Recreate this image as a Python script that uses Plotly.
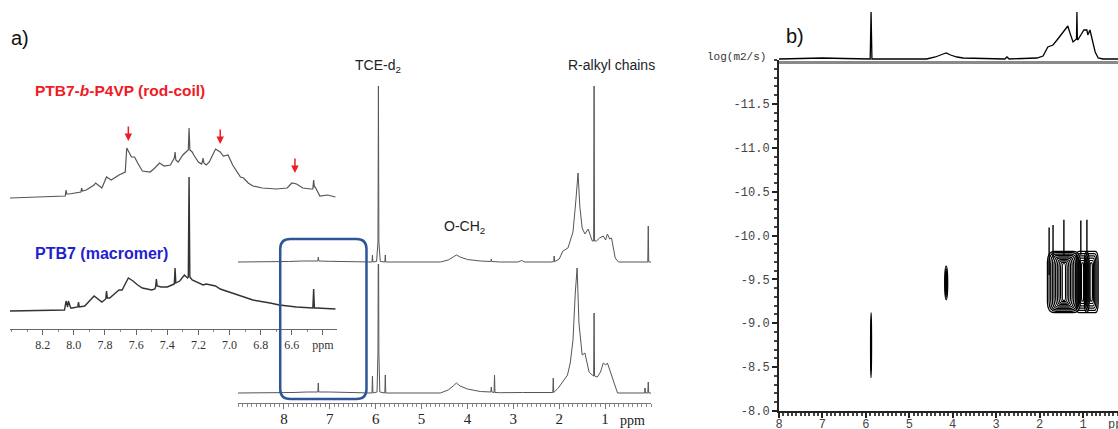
import plotly.graph_objects as go

W, H = 1118, 429

# ---------------- DATA ----------------
# a) full 1H spectrum, PTB7-b-P4VP (rod-coil), upper trace
rc_ppm = [9.0, 8.2, 7.9, 7.6, 7.3, 7.26, 7.25, 7.24, 7.0, 6.6, 6.3, 6.08, 6.07, 6.06, 5.98, 5.95, 5.94, 5.93, 5.90,
          5.80, 5.79, 5.78, 4.59, 4.42, 4.31, 4.24, 4.16, 4.00, 3.72, 3.49, 3.48, 3.47, 3.28, 2.9, 2.82, 2.75, 2.2,
          2.12, 2.11, 2.10, 2.0, 1.92, 1.81, 1.70, 1.64, 1.59, 1.55, 1.50, 1.44, 1.37, 1.28, 1.25, 1.24, 1.23, 1.19,
          1.12, 1.04, 0.99, 0.95, 0.90, 0.86, 0.81, 0.78, 0.71, 0.08, 0.07, 0.06, 0.05, 0.0]
rc_int = [0, 0, 0.5, 1, 1, 1, 5, 1, 0.7, 0.3, 0, 0, 7, 0, 0.5, 20, 176, 20, 0.5,
          0, 7, 0, 0, 2, 5, 7, 5, 2.5, 1, 0.5, 3, 0.5, 0, 0, 1.5, 0, 0,
          0.3, 6, 0.3, 3, 11, 14, 30, 60, 89, 55, 34, 28, 33, 21, 21, 176, 21, 21,
          24, 26, 22, 28, 23, 24, 13, 4, 0, 0, 0, 36, 0, 0]

# a) full 1H spectrum, PTB7 (macromer), lower trace
mm_ppm = [9.0, 8.1, 7.8, 7.5, 7.26, 7.25, 7.24, 7.0, 6.6, 6.3, 6.08, 6.07, 6.06, 5.97, 5.95, 5.94, 5.93, 5.91,
          5.80, 5.79, 5.78, 4.59, 4.42, 4.31, 4.24, 4.16, 4.00, 3.72, 3.49, 3.48, 3.47, 3.42, 3.41, 3.40, 3.28,
          2.8, 2.2, 2.14, 2.13, 2.12, 2.02, 1.92, 1.82, 1.76, 1.70, 1.65, 1.61, 1.57, 1.50, 1.44, 1.35, 1.28,
          1.25, 1.24, 1.23, 1.17, 1.10, 1.04, 0.99, 0.95, 0.88, 0.81, 0.73, 0.14, 0.13, 0.12, 0.07, 0.06, 0.05, 0.0]
mm_int = [0, 0, 0.5, 1, 1, 10, 1, 1, 0.5, 0, 0, 17, 0, 1, 40, 200, 40, 1,
          0, 18, 0, 0, 3, 7, 10, 7, 4, 1.5, 1, 6, 1, 0.5, 18, 0.5, 0.3,
          0.5, 0.5, 0.5, 15, 0.5, 5, 11, 18, 30, 53, 100, 125, 70, 38, 40, 21, 18,
          17, 80, 17, 16, 21, 30, 28, 30, 21, 10, 0, 0, 5, 0, 0, 11, 0, 0]

# a) inset, aromatic region, rod-coil
ins_rc_ppm = [8.41, 8.07, 8.055, 8.05, 8.045, 8.03, 7.96, 7.955, 7.95, 7.945, 7.92, 7.87, 7.86, 7.82, 7.79, 7.76,
              7.72, 7.71, 7.67, 7.66, 7.63, 7.61, 7.59, 7.56, 7.51, 7.48, 7.45, 7.42, 7.38, 7.36, 7.355, 7.35,
              7.345, 7.33, 7.30, 7.28, 7.27, 7.265, 7.26, 7.255, 7.24, 7.23, 7.20, 7.18, 7.175, 7.17, 7.165, 7.15,
              7.13, 7.09, 7.06, 7.04, 7.01, 6.98, 6.93, 6.91, 6.88, 6.85, 6.79, 6.70, 6.63, 6.60, 6.57, 6.56,
              6.53, 6.48, 6.465, 6.46, 6.455, 6.45, 6.42, 6.37, 6.32]
ins_rc_int = [2, 4, 4, 10, 6, 6, 8, 8, 12, 9, 10, 15, 17, 12, 23, 20,
              24, 25, 28, 52, 43, 43, 37, 29, 28, 32, 37, 34, 35, 40, 42, 48,
              40, 38, 45, 48, 50, 50, 72, 50, 48, 45, 38, 36, 38, 42, 37, 35,
              38, 51, 48, 44, 45, 35, 23, 22, 17, 14, 12, 11, 12, 17, 16, 15,
              12, 11, 11, 20, 13, 13, 4, 5, 3]

# a) inset, aromatic region, macromer
ins_mm_ppm = [8.41, 8.07, 8.06, 8.05, 8.04, 8.035, 8.02, 8.01, 7.975, 7.97, 7.965, 7.93, 7.87, 7.82, 7.795, 7.79,
              7.785, 7.77, 7.72, 7.71, 7.69, 7.66, 7.65, 7.62, 7.59, 7.56, 7.50, 7.48, 7.475, 7.47, 7.465, 7.44,
              7.40, 7.37, 7.355, 7.35, 7.345, 7.32, 7.29, 7.27, 7.265, 7.26, 7.255, 7.24, 7.21, 7.17, 7.15, 7.09,
              7.06, 6.95, 6.85, 6.74, 6.68, 6.57, 6.48, 6.465, 6.46, 6.455, 6.44, 6.32]
ins_mm_int = [2, 3, 3, 12, 6, 12, 5, 5, 6, 11, 6, 7, 17, 11, 14, 22,
              15, 15, 21, 23, 23, 33, 35, 32, 28, 25, 23, 24, 26, 34, 27, 26,
              26, 28, 29, 45, 30, 32, 38, 35, 36, 136, 36, 33, 31, 28, 29, 27,
              24, 18, 13, 10, 8, 6, 5, 5, 24, 5, 5, 4]

# b) 1D projection above the DOSY map
proj_ppm = [8.0, 7.5, 7.0, 6.5, 6.0, 5.90, 5.88, 5.86, 4.6, 4.4, 4.22, 4.15, 4.05, 3.9, 3.76, 3.2, 2.8, 2.75, 2.7,
            2.06, 1.92, 1.81, 1.72, 1.69, 1.58, 1.46, 1.35, 1.30, 1.23, 1.15, 1.14, 1.13, 1.12, 1.05, 0.98, 0.91,
            0.89, 0.84, 0.79, 0.72, 0.65, 0.54, 0.19]
proj_int = [0, 0.5, 1, 0.5, 0, 0, 47, 0, 0, 2, 5, 6, 4, 2, 1, 0, 0, 2, 0,
            1, 3, 12, 14, 14, 20, 27, 33, 26, 17, 20, 47, 20, 19, 24, 29, 29,
            24, 29, 19, 7, 1, 0, 0]

# b) DOSY cross peaks: centre (ppm, logD), half-widths, number of contour levels
dosy_ppm = [5.88, 4.15, 1.44, 1.01, 0.81]
dosy_logd = [-8.75, -9.46, -9.47, -9.47, -9.47]
dosy_wppm = [0.012, 0.035, 0.38, 0.15, 0.16]
dosy_hlog = [0.37, 0.19, 0.35, 0.35, 0.35]
dosy_levels = [2, 3, 10, 6, 6]
# t1-noise ridges above the alkyl cross peaks
ridge_ppm = [1.78, 1.69, 1.44, 1.05, 0.91]
ridge_top = [-10.09, -10.12, -10.18, -10.17, -10.18]
ridge_bottom = [-9.55, -9.75, -9.78, -9.78, -9.78]

main_ticks = [8, 7, 6, 5, 4, 3, 2, 1]
inset_ticks = [8.2, 8.0, 7.8, 7.6, 7.4, 7.2, 7.0, 6.8, 6.6, 6.4]
inset_ticktext = ["8.2", "8.0", "7.8", "7.6", "7.4", "7.2", "7.0", "6.8", "6.6", "ppm"]
dosy_xticks = [8, 7, 6, 5, 4, 3, 2, 1]
dosy_yticks = [-8.0, -8.5, -9.0, -9.5, -10.0, -10.5, -11.0, -11.5]
dosy_yticktext = ["-8.0", "-8.5", "-9.0", "-9.5", "-10.0", "-10.5", "-11.0", "-11.5"]

# red arrows (ppm, intensity of tip on the rod-coil inset)
arrow_ppm = [7.65, 7.06, 6.58]
arrow_int = [59, 56, 27]

# highlighted region in the full spectrum (ppm range)
box_ppm = (8.08, 6.20)


# ---------------- FIGURE ----------------
def dx(p):
    return p / W


def dy(p):
    return 1 - p / H


fig = go.Figure()
grey = "#555555"
dark = "#333333"

fig.add_trace(go.Scatter(x=mm_ppm, y=mm_int, xaxis="x", yaxis="y", mode="lines",
                         line=dict(color=grey, width=1)))
fig.add_trace(go.Scatter(x=rc_ppm, y=rc_int, xaxis="x", yaxis="y2", mode="lines",
                         line=dict(color=grey, width=1)))
fig.add_trace(go.Scatter(x=ins_mm_ppm, y=ins_mm_int, xaxis="x2", yaxis="y3", mode="lines",
                         line=dict(color=dark, width=1.4)))
fig.add_trace(go.Scatter(x=ins_rc_ppm, y=ins_rc_int, xaxis="x2", yaxis="y4", mode="lines",
                         line=dict(color=grey, width=1.2)))
fig.add_trace(go.Scatter(x=proj_ppm, y=proj_int, xaxis="x4", yaxis="y6", mode="lines",
                         line=dict(color="black", width=1.3)))
for p, t, b in zip(ridge_ppm, ridge_top, ridge_bottom):
    fig.add_trace(go.Scatter(x=[p, p], y=[b, t], xaxis="x3", yaxis="y5", mode="lines",
                             line=dict(color="black", width=1.4)))

mono = "Liberation Mono"
serif = "Liberation Serif"
sans = "Liberation Sans"

fig.update_layout(
    width=W, height=H, margin=dict(l=0, r=0, t=0, b=0, autoexpand=False),
    paper_bgcolor="white", plot_bgcolor="rgba(0,0,0,0)", showlegend=False,
    xaxis=dict(domain=[dx(238), dx(651)], range=[9, 0], anchor="y",
               showline=True, linecolor="#777", linewidth=1, showgrid=False, zeroline=False,
               tickvals=main_ticks, ticks="outside", ticklen=5, tickcolor="#777", tickwidth=1,
               ticklabelstandoff=-3,
               minor=dict(dtick=0.1, tick0=0, ticks="outside", ticklen=3, tickcolor="#888", showgrid=False),
               tickfont=dict(family=serif, size=15, color="#222")),
    yaxis=dict(domain=[dy(403), dy(264)], range=[-10, 129], visible=False),
    yaxis2=dict(domain=[dy(265), dy(80)], range=[-3, 182], anchor="x", visible=False),
    xaxis2=dict(domain=[dx(10), dx(337)], range=[8.41, 6.31], anchor="y3",
                showline=True, linecolor="#666", linewidth=1, showgrid=False, zeroline=False,
                tickvals=inset_ticks, ticktext=inset_ticktext, ticks="outside", ticklen=5,
                tickcolor="#666", minor=dict(dtick=0.1, tick0=0, ticks="outside", ticklen=2,
                                             tickcolor="#888", showgrid=False),
                tickfont=dict(family=serif, size=12, color="#333")),
    yaxis3=dict(domain=[dy(329), dy(170)], range=[-16, 143], anchor="x2", visible=False),
    yaxis4=dict(domain=[dy(205), dy(120)], range=[-5, 80], anchor="x2", visible=False),
    xaxis3=dict(domain=[dx(779), 1], range=[8, 0.194], anchor="y5",
                showline=True, linecolor="#222", linewidth=2, showgrid=False, zeroline=False,
                tickvals=dosy_xticks, ticks="outside", ticklen=5, tickcolor="#222", tickwidth=1.5,
                ticklabelstandoff=-4,
                minor=dict(dtick=0.1, tick0=0, ticks="outside", ticklen=3, tickcolor="#444", showgrid=False),
                tickfont=dict(family=mono, size=12, color="#444")),
    yaxis5=dict(domain=[dy(411), dy(60)], range=[-8, -12], anchor="x3",
                showline=True, linecolor="#222", linewidth=2, showgrid=False, zeroline=False,
                tickvals=dosy_yticks, ticktext=dosy_yticktext, ticks="outside", ticklen=5,
                tickcolor="#222", tickwidth=1.5,
                minor=dict(dtick=0.1, tick0=0, ticks="outside", ticklen=3, tickcolor="#444", showgrid=False),
                tickfont=dict(family=mono, size=12, color="#444")),
    xaxis4=dict(domain=[dx(779), 1], range=[8, 0.194], anchor="y6", matches="x3",
                showline=True, linecolor="#8a8a8a", linewidth=3, showticklabels=False, ticks="",
                showgrid=False, zeroline=False),
    yaxis6=dict(domain=[dy(61), dy(5)], range=[-2, 54], anchor="x4", visible=False),
)

shapes = []


def rounded_ring(xl, xr, yt, yb, rx, ry):
    # xl: left edge (larger ppm), xr: right edge; yt: top (more negative logD), yb: bottom
    return (f"M {xl - rx},{yt} L {xr + rx},{yt} Q {xr},{yt} {xr},{yt + ry} "
            f"L {xr},{yb - ry} Q {xr},{yb} {xr + rx},{yb} "
            f"L {xl - rx},{yb} Q {xl},{yb} {xl},{yb - ry} "
            f"L {xl},{yt + ry} Q {xl},{yt} {xl - rx},{yt} Z")


# DOSY contours as nested rings
for i, (p, d, w, h, n) in enumerate(zip(dosy_ppm, dosy_logd, dosy_wppm, dosy_hlog, dosy_levels)):
    for k in range(n, 0, -1):
        hw = w * k / n
        hh = h * (0.55 + 0.45 * k / n)
        if i < 2:
            shapes.append(dict(type="circle", xref="x3", yref="y5",
                               x0=p - hw, x1=p + hw, y0=d - hh, y1=d + hh,
                               line=dict(color="black", width=1.2),
                               fillcolor="#9a9a9a" if (i == 1 and k == n) else "rgba(0,0,0,0)"))
        else:
            shapes.append(dict(type="path", xref="x3", yref="y5",
                               path=rounded_ring(p + hw, p - hw, d - hh, d + hh, 0.45 * hw, 0.35 * hh),
                               line=dict(color="black", width=1.2)))

# rounded highlight box: ppm range in data coordinates, vertical extent in paper coordinates
L, R = box_ppm
T, B = dy(239), dy(399)
rx, ry = 0.22, 10 / H
path = (f"M {L - rx},{T} L {R + rx},{T} Q {R},{T} {R},{T - ry} L {R},{B + ry} "
        f"Q {R},{B} {R + rx},{B} L {L - rx},{B} Q {L},{B} {L},{B + ry} L {L},{T - ry} "
        f"Q {L},{T} {L - rx},{T} Z")
shapes.append(dict(type="path", xref="x", yref="paper", path=path,
                   line=dict(color="#2E5597", width=2.5)))
fig.update_layout(shapes=shapes)

ann = []


def label(text, x, y, xref="paper", size=14, color="#222", family=sans, xanchor="center"):
    ann.append(dict(text=text, xref=xref, yref="paper", x=x, y=y, xanchor=xanchor, yanchor="middle",
                    showarrow=False, font=dict(family=family, size=size, color=color)))


label("a)", dx(9), dy(38), size=20, color="#111", xanchor="left")
label("b)", dx(784), dy(36), size=20, color="#111", xanchor="left")
label("<b>PTB7-<i>b</i>-P4VP (rod-coil)</b>", dx(33), dy(90), size=15.5, color="#ee1c24", xanchor="left")
label("<b>PTB7 (macromer)</b>", dx(33), dy(253), size=16, color="#1f1fd0", xanchor="left")
label("TCE-d<sub>2</sub>", 5.94, dy(66), xref="x")
label("R-alkyl chains", 0.85, dy(65), xref="x")
label("O-CH<sub>2</sub>", 4.06, dy(227), xref="x")
label("ppm", 0.41, dy(420), xref="x", family=serif, size=14)
label("log(m2/s)", dx(736), dy(57), family=mono, size=11, color="#333")
label("ppm", dx(1106), dy(425), family=mono, size=12, color="#444", xanchor="left")

for p, v in zip(arrow_ppm, arrow_int):
    ann.append(dict(text="", xref="x2", yref="y4", x=p, y=v, ax=0, ay=-16,
                    showarrow=True, arrowhead=2, arrowsize=1, arrowwidth=1.5, arrowcolor="#ee1c24"))
fig.update_layout(annotations=ann)

fig.write_html("out.html")
